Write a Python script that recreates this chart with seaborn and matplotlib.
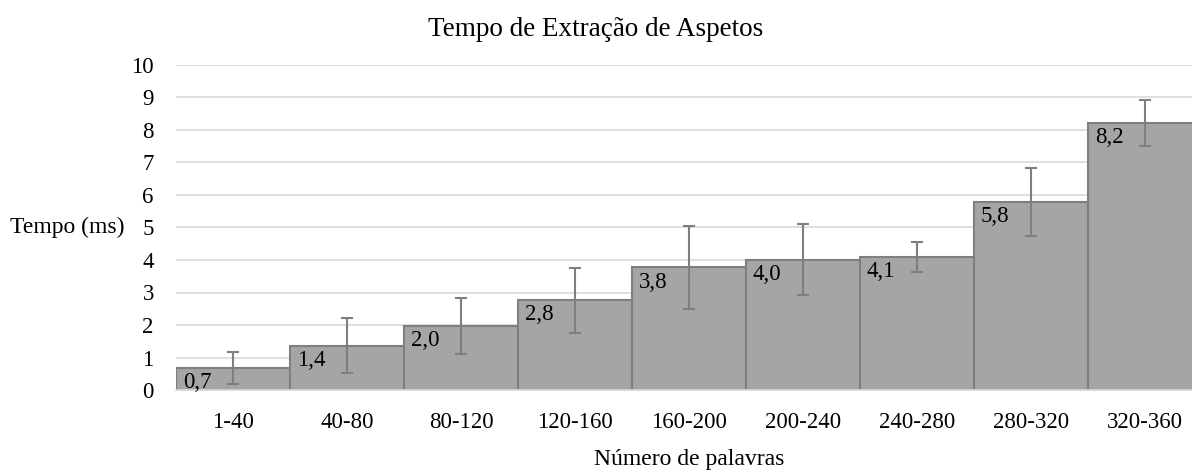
import matplotlib
matplotlib.use('Agg')
import matplotlib.pyplot as plt
import seaborn as sns

# data
categories = ['1-40', '40-80', '80-120', '120-160', '160-200',
              '200-240', '240-280', '280-320', '320-360']
tempos = [0.68, 1.36, 1.97, 2.76, 3.77, 4.01, 4.09, 5.79, 8.22]
desvios = [0.48, 0.85, 0.86, 1.00, 1.28, 1.10, 0.46, 1.05, 0.71]

sns.set_theme(style='white')
plt.rcParams['font.family'] = ['Liberation Serif', 'DejaVu Serif']
plt.rcParams['text.color'] = 'black'
plt.rcParams['axes.labelcolor'] = 'black'

fig = plt.figure(figsize=(11.92, 4.70), dpi=100)
ax = fig.add_axes([176 / 1192, 80 / 470, 1026 / 1192, 325 / 470])

sns.barplot(x=categories, y=tempos, color='#a5a5a5', saturation=1, width=1,
            edgecolor='#7f7f7f', linewidth=1.5, ax=ax, zorder=2)
ax.errorbar(range(len(categories)), tempos, yerr=desvios, fmt='none',
            ecolor='#7f7f7f', elinewidth=1.5, capsize=4, capthick=1.5, zorder=3)

for i, v in enumerate(tempos):
    ax.annotate(f'{v:.1f}'.replace('.', ','), xy=(i - 0.5, v),
                xytext=(5, -3), textcoords='offset points',
                ha='left', va='top', fontsize=16.5, color='black', zorder=4)

ax.set_ylim(0, 10)
ax.set_xlim(-0.5, 8.5)
ax.set_yticks(range(0, 11))
ax.yaxis.grid(True, color='#d9d9d9', linewidth=1.2, zorder=0)
ax.xaxis.grid(False)
ax.set_axisbelow(True)
for side in ['left', 'right', 'top']:
    ax.spines[side].set_visible(False)
ax.spines['bottom'].set_color('#d9d9d9')
ax.tick_params(axis='both', length=0, labelsize=16.5, colors='black')
ax.tick_params(axis='y', pad=16)
ax.tick_params(axis='x', pad=16)

ax.set_xlabel('Número de palavras', fontsize=17, labelpad=11)
ax.set_ylabel('Tempo (ms)', fontsize=17, rotation=0, ha='right', va='center',
              labelpad=5)
fig.text(0.5, 1 - 30 / 470, 'Tempo de Extração de Aspetos',
         ha='center', va='center', fontsize=19.5)

plt.savefig('out.png', dpi=100)
